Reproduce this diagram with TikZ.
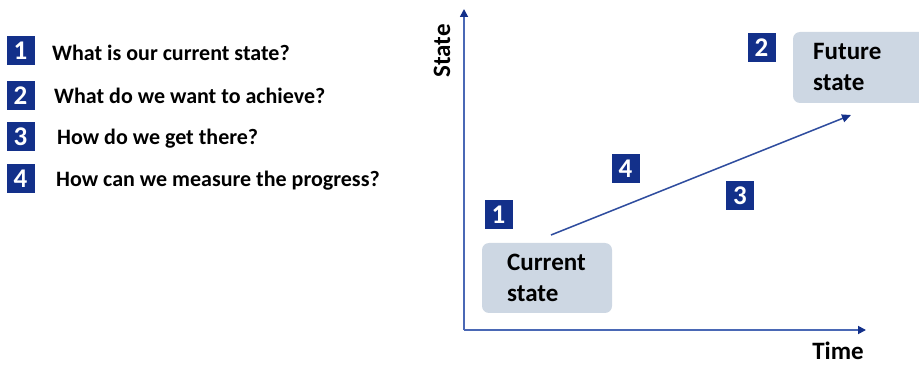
\documentclass[tikz,border=0pt]{standalone}
\usepackage{fontspec}
\setmainfont{Carlito}
\usetikzlibrary{arrows.meta}
\definecolor{navy}{HTML}{13308A}
\definecolor{axisblue}{HTML}{4A68B5}
\definecolor{arrowblue}{HTML}{2E4C9E}
\definecolor{boxfill}{HTML}{CDD7E3}
\tikzset{
  numsq/.style={fill=navy, text=white, font=\bfseries\fontsize{27}{27}\selectfont, minimum width=28pt, minimum height=29pt, inner sep=0pt},
  qtext/.style={anchor=west, font=\bfseries\fontsize{22}{26}\selectfont, inner sep=0pt},
  statebox/.style={fill=boxfill, rounded corners=7pt, inner sep=0pt},
  boxtext/.style={anchor=west, align=left, font=\bfseries\fontsize{25}{31}\selectfont, inner sep=0pt},
  axislabel/.style={font=\bfseries\fontsize{25}{30}\selectfont, inner sep=0pt},
}
\begin{document}
\begin{tikzpicture}[x=1pt,y=-1pt]
\useasboundingbox (0,0) rectangle (919,366);
% list
\node[numsq] (l1) at (20.5,51) {1};
\node[numsq] (l2) at (20.5,95.5) {2};
\node[numsq] (l3) at (20.5,137) {3};
\node[numsq] (l4) at (20.5,178.5) {4};
\node[qtext] (q1) at (52,53) {What is our current state?};
\node[qtext] (q2) at (54,96) {What do we want to achieve?};
\node[qtext] (q3) at (57,139) {How do we get there?};
\node[qtext] (q4) at (56,181) {How can we measure the progress?};
% axes
\coordinate (o) at (464,330);
\coordinate (ytop) at (464,9);
\coordinate (xend) at (866,330);
\draw[axisblue, line width=1.7pt, -{Triangle[length=8pt,width=8pt,fill=navy,color=navy]}] (o) -- (ytop);
\draw[axisblue, line width=1.7pt, -{Triangle[length=8pt,width=8pt,fill=navy,color=navy]}] (o) -- (xend);
\node[axislabel, rotate=90] (ylab) at (442,51) {State};
\node[axislabel] (xlab) at (838,351) {Time};
% boxes
\path[statebox] (482,243) rectangle (612,313);
\node[boxtext] (cur) at (507,278) {Current\\state};
\path[statebox] (793,32) rectangle (930,103);
\node[boxtext] (fut) at (813,67) {Future\\state};
% arrow
\coordinate (a0) at (551,235);
\coordinate (a1) at (851,115);
\draw[arrowblue, line width=1.5pt, -{Triangle[length=9pt,width=8pt,fill=navy,color=navy]}] (a0) -- (a1);
% numbered squares
\node[numsq] (s1) at (498.5,214.5) {1};
\node[numsq] (s2) at (761.5,48) {2};
\node[numsq] (s4) at (625.5,168.5) {4};
\node[numsq] (s3) at (740,195.5) {3};
\end{tikzpicture}
\end{document}
